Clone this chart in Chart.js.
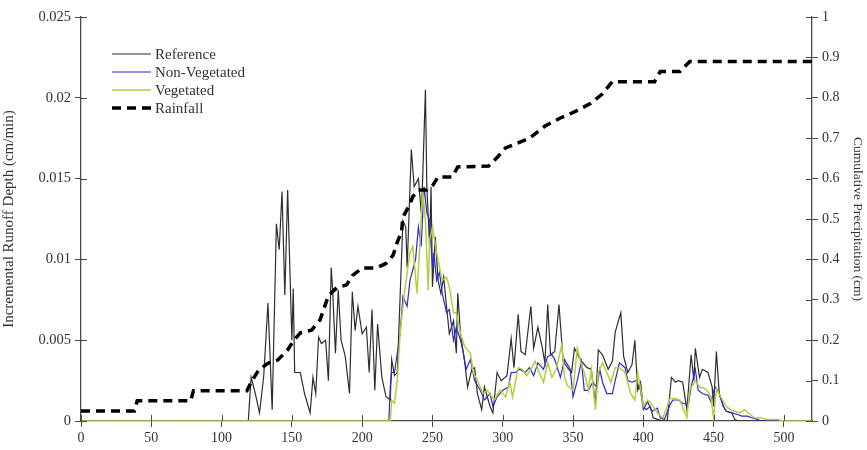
<!DOCTYPE html>
<html>
<head>
<meta charset="utf-8">
<script src="https://cdn.jsdelivr.net/npm/chart.js@4/dist/chart.umd.min.js"></script>
<style>
  html, body { margin: 0; padding: 0; background: #fff; }
  #wrap { width: 867px; height: 450px; }
</style>
</head>
<body>
<div id="wrap"><canvas id="c" width="867" height="450"></canvas></div>
<script>
// Time (min) and incremental runoff depth (cm/min) for each simulation
const refTime = [0,119,121,124,127,130,133,136,139,141,143,145,147,150,151,152,156,159,163,165,167,169,171,174,176,178,179,181,183,185,188,191,193,195,197,200,203,205,207,209,211,214,217,220,221,223,225,229,231,232,235,237,240,242,243,245,246,248,249,250,252,254,256,258,260,262,265,267,268,270,273,275,278,280,282,285,287,291,293,296,297,299,303,306,308,311,313,316,320,322,325,328,330,332,334,337,340,343,346,349,351,354,356,360,363,366,368,371,375,378,380,384,386,389,392,394,396,398,400,402,405,407,410,414,417,420,423,425,428,431,434,436,437,440,442,446,449,450,452,454,457,459,463,465,467,520];
const refDepth = [0,0,0.0027,0.0017,0.0005,0.0028,0.0073,0.0007,0.0122,0.0106,0.0142,0.0078,0.0143,0.005,0.0082,0.003,0.003,0.0017,0.0005,0.0027,0.0017,0.0052,0.0048,0.005,0.0025,0.0095,0.0081,0.0042,0.0081,0.005,0.004,0.0017,0.008,0.0056,0.0071,0.0054,0.0058,0.003,0.0069,0.0019,0.006,0.0027,0.0015,0.0013,0.0038,0.0028,0.003,0.0124,0.012,0.0095,0.0168,0.0145,0.015,0.0129,0.0149,0.0205,0.0145,0.0108,0.0145,0.0083,0.0114,0.0087,0.0079,0.0089,0.0071,0.0054,0.0062,0.0042,0.0079,0.0054,0.0036,0.0021,0.0032,0.0033,0.0017,0.0007,0.0021,0.0009,0.0005,0.003,0.0028,0.0025,0.0028,0.0051,0.0033,0.0066,0.0043,0.0041,0.0071,0.0045,0.0058,0.0046,0.0036,0.0072,0.0041,0.0043,0.0072,0.0037,0.0033,0.003,0.0045,0.004,0.0037,0.0033,0.0032,0.001,0.0044,0.0041,0.0032,0.0037,0.0055,0.0067,0.004,0.003,0.0035,0.005,0.0019,0.0024,0.0009,0.0007,0.0009,0.0002,0.0001,0,0,0.0027,0.0024,0.0025,0.0024,0.0007,0.0041,0.0025,0.0045,0.0027,0.0032,0.003,0.0021,0.0009,0.0043,0.0017,0.0009,0.0006,0.0005,0.0001,0,0];

const nonVegTime = [0,219,220,221,223,227,229,232,234,238,240,242,244,246,248,250,251,253,255,257,260,262,265,267,270,272,274,277,280,284,287,291,293,296,300,304,306,309,312,316,319,322,325,329,332,335,337,341,344,348,350,353,356,358,361,364,367,369,371,374,378,380,383,387,389,392,395,398,400,403,406,410,412,415,419,421,425,428,432,434,437,439,442,446,448,451,453,457,459,463,467,470,474,477,481,484,520];
const nonVegDepth = [0,0,0.0021,0.003,0.003,0.0054,0.0077,0.0071,0.0087,0.01,0.012,0.0108,0.0145,0.0129,0.0124,0.0095,0.0104,0.0087,0.0092,0.0079,0.0067,0.0069,0.005,0.0058,0.005,0.0042,0.0032,0.0038,0.0025,0.0019,0.0013,0.0017,0.0009,0.0015,0.0019,0.0021,0.003,0.003,0.0032,0.003,0.0033,0.0028,0.0036,0.0032,0.004,0.0041,0.0038,0.0027,0.0038,0.0032,0.0015,0.0025,0.0037,0.0019,0.0019,0.0024,0.0021,0.0032,0.0024,0.0017,0.0017,0.0025,0.0036,0.0033,0.0025,0.0024,0.0025,0.0019,0.0007,0.0012,0.0006,0.0008,0.0002,0.0001,0.001,0.0013,0.0013,0.0011,0.001,0.0021,0.0032,0.0019,0.0017,0.0016,0.0012,0.0021,0.0019,0.0009,0.0006,0.0005,0.0004,0.0003,0.0003,0.0002,0.0001,0,0];

const vegTime = [0,220,221,223,225,227,230,234,236,239,241,243,245,247,248,250,253,255,257,260,262,265,267,270,273,277,279,282,286,289,294,298,302,305,307,311,314,317,320,323,326,329,332,335,338,342,344,346,350,353,356,358,361,363,366,368,371,374,377,380,383,387,391,394,396,399,400,403,407,410,414,419,423,426,431,433,437,440,444,446,448,450,452,455,459,462,465,469,472,476,479,483,488,495,500,520];
const vegDepth = [0,0,0.0013,0.0011,0.0025,0.0054,0.0079,0.0104,0.0108,0.0079,0.0108,0.0143,0.0124,0.0081,0.0112,0.012,0.0104,0.0095,0.0087,0.0089,0.0083,0.0067,0.0067,0.0054,0.0046,0.0042,0.003,0.0025,0.0017,0.0019,0.0013,0.0019,0.0015,0.0024,0.0015,0.0033,0.0032,0.0028,0.0032,0.0037,0.003,0.0024,0.0036,0.0027,0.0032,0.0047,0.0027,0.0022,0.0019,0.0045,0.0035,0.003,0.0019,0.0032,0.0007,0.003,0.0036,0.003,0.0024,0.0033,0.0033,0.003,0.0017,0.0013,0.003,0.0015,0.0009,0.0013,0.0009,0.0005,0.0002,0.0014,0.0014,0.0013,0.0002,0.0019,0.0025,0.0021,0.002,0.0018,0.0015,0.0002,0.002,0.0015,0.0009,0.0007,0.0006,0.0005,0.0007,0.0004,0.0002,0.0002,0.0001,0.0001,0,0];

// Cumulative rainfall (cm)
const rainTime = [0,38,40,78,80,118,121,126,133,140,147,151,156,164,170,173,176,182,189,193,200,210,217,222,225,228,229,233,236,240,246,250,254,264,268,290,297,302,319,330,341,351,362,371,378,408,412,426,433,520];
const rainCum = [0.025,0.025,0.05,0.05,0.075,0.075,0.096,0.124,0.143,0.151,0.176,0.198,0.218,0.225,0.25,0.28,0.31,0.33,0.337,0.36,0.379,0.379,0.39,0.41,0.443,0.468,0.505,0.53,0.555,0.572,0.572,0.582,0.604,0.604,0.629,0.631,0.656,0.676,0.70,0.73,0.75,0.765,0.785,0.81,0.84,0.84,0.865,0.865,0.89,0.89];

// Axis ticks
const timeTicks = [0,50,100,150,200,250,300,350,400,450,500];
const depthTicks = [0,0.005,0.01,0.015,0.02,0.025];
const precipTicks = [0,0.1,0.2,0.3,0.4,0.5,0.6,0.7,0.8,0.9,1];

const zip = (xs, ys) => xs.map((x, i) => ({ x: x, y: ys[i] }));

const FONT = 'Liberation Serif';
const AXIS = '#4a4a4a';
const TXT = '#333';

// Short tick marks that cross each axis line to the inside of the plot
const crossTicks = {
  id: 'crossTicks',
  afterDatasetsDraw(chart) {
    const ctx = chart.ctx;
    const len = 6;
    ctx.save();
    ctx.strokeStyle = AXIS;
    ctx.lineWidth = 1;
    const xs = chart.scales.x, yl = chart.scales.y, yr = chart.scales.y1;
    ctx.beginPath();
    xs.ticks.forEach(t => {
      const p = Math.round(xs.getPixelForValue(t.value)) + 0.5;
      ctx.moveTo(p, xs.top); ctx.lineTo(p, xs.top - len);
    });
    yl.ticks.forEach(t => {
      const p = Math.round(yl.getPixelForValue(t.value)) + 0.5;
      ctx.moveTo(yl.right, p); ctx.lineTo(yl.right + len, p);
    });
    yr.ticks.forEach(t => {
      const p = Math.round(yr.getPixelForValue(t.value)) + 0.5;
      ctx.moveTo(yr.left, p); ctx.lineTo(yr.left - len, p);
    });
    ctx.stroke();
    ctx.restore();
  }
};

// Legend box drawn in the upper-left of the plot area
const insetLegend = {
  id: 'insetLegend',
  afterDraw(chart) {
    const ctx = chart.ctx;
    const area = chart.chartArea;
    const x0 = area.left + 31, x1 = area.left + 70, tx = area.left + 74;
    let y = area.top + 37;
    ctx.save();
    ctx.font = '15px "' + FONT + '"';
    ctx.textBaseline = 'middle';
    ctx.textAlign = 'left';
    chart.data.datasets.forEach(ds => {
      ctx.beginPath();
      ctx.strokeStyle = ds.borderColor;
      ctx.lineWidth = ds.borderWidth;
      ctx.setLineDash(ds.borderDash || []);
      ctx.moveTo(x0, y); ctx.lineTo(x1, y);
      ctx.stroke();
      ctx.setLineDash([]);
      ctx.fillStyle = TXT;
      ctx.fillText(ds.label, tx, y + 1);
      y += 18;
    });
    ctx.restore();
  }
};

new Chart(document.getElementById('c'), {
  type: 'line',
  data: {
    datasets: [
      { label: 'Reference', data: zip(refTime, refDepth), yAxisID: 'y',
        borderColor: '#2e2e2e', borderWidth: 1.2, order: 3 },
      { label: 'Non-Vegetated', data: zip(nonVegTime, nonVegDepth), yAxisID: 'y',
        borderColor: '#2a2ad0', borderWidth: 1.2, order: 2 },
      { label: 'Vegetated', data: zip(vegTime, vegDepth), yAxisID: 'y',
        borderColor: '#b2d03c', borderWidth: 1.5, order: 1 },
      { label: 'Rainfall', data: zip(rainTime, rainCum), yAxisID: 'y1',
        borderColor: '#000', borderWidth: 3.5, borderDash: [9, 6], order: 0 }
    ]
  },
  options: {
    responsive: false,
    animation: false,
    devicePixelRatio: 1,
    layout: { padding: { top: 17, right: 0, bottom: 0, left: 0 } },
    elements: {
      point: { radius: 0, hoverRadius: 0 },
      line: { tension: 0, fill: false, borderCapStyle: 'butt', borderJoinStyle: 'miter' }
    },
    plugins: { legend: { display: false }, tooltip: { enabled: false } },
    scales: {
      x: {
        type: 'linear', min: 0, max: 520,
        afterFit(s) { s.height = 29; },
        afterBuildTicks(s) { s.ticks = timeTicks.map(v => ({ value: v })); },
        ticks: { includeBounds: false, padding: 3, color: TXT, font: { family: FONT, size: 14 },
                 maxRotation: 0, autoSkip: false },
        grid: { drawOnChartArea: false, drawTicks: true, tickLength: 6, color: AXIS },
        border: { color: AXIS, width: 1.3 }
      },
      y: {
        position: 'left', min: 0, max: 0.025,
        afterFit(s) { s.width = 81; },
        afterBuildTicks(s) { s.ticks = depthTicks.map(v => ({ value: v })); },
        ticks: { padding: 4, color: TXT, font: { family: FONT, size: 14.5 },
                 callback: v => String(Number(v.toFixed(3))) },
        grid: { drawOnChartArea: false, drawTicks: true, tickLength: 6, color: AXIS },
        border: { color: AXIS, width: 1.3 },
        title: { display: true, text: 'Incremental Runoff Depth (cm/min)', color: TXT,
                 font: { family: FONT, size: 15 }, padding: { top: 0, bottom: 0 } }
      },
      y1: {
        position: 'right', min: 0, max: 1,
        afterFit(s) { s.width = 55; },
        afterBuildTicks(s) { s.ticks = precipTicks.map(v => ({ value: v })); },
        ticks: { padding: 4, color: TXT, font: { family: FONT, size: 14 },
                 callback: v => String(Number(v.toFixed(1))) },
        grid: { drawOnChartArea: false, drawTicks: true, tickLength: 6, color: AXIS },
        border: { color: AXIS, width: 1.3 },
        title: { display: true, text: 'Cumulative Precipitation (cm)', color: TXT,
                 font: { family: FONT, size: 13.5 }, padding: { top: 1, bottom: 0 } }
      }
    }
  },
  plugins: [crossTicks, insetLegend]
});
</script>
</body>
</html>
